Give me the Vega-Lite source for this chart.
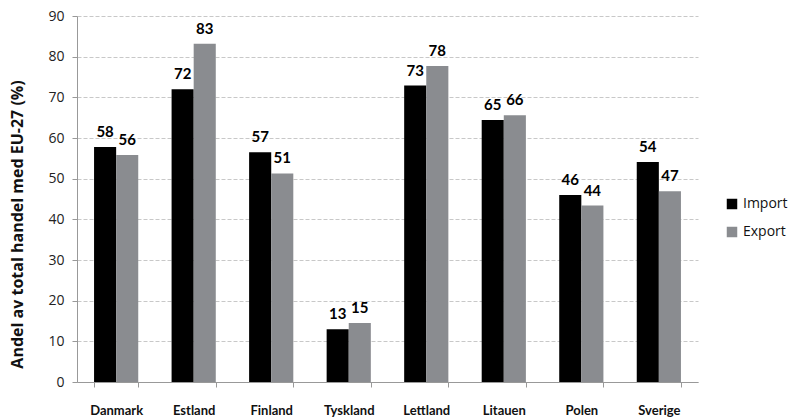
{
  "$schema": "https://vega.github.io/schema/vega-lite/v6.json",
  "width": 621,
  "height": 366,
  "autosize": {"type": "none"},
  "padding": {"left": 77, "top": 16, "right": 96, "bottom": 38},
  "background": "white",
  "config": {
    "view": {"stroke": null},
    "font": "Lato, sans-serif"
  },
  "data": {
    "values": [
      {"land": "Danmark", "typ": "Import", "andel": 57.8, "etikett": "58"},
      {"land": "Danmark", "typ": "Export", "andel": 55.8, "etikett": "56"},
      {"land": "Estland", "typ": "Import", "andel": 72.0, "etikett": "72"},
      {"land": "Estland", "typ": "Export", "andel": 83.2, "etikett": "83"},
      {"land": "Finland", "typ": "Import", "andel": 56.5, "etikett": "57"},
      {"land": "Finland", "typ": "Export", "andel": 51.3, "etikett": "51"},
      {"land": "Tyskland", "typ": "Import", "andel": 13.0, "etikett": "13"},
      {"land": "Tyskland", "typ": "Export", "andel": 14.5, "etikett": "15"},
      {"land": "Lettland", "typ": "Import", "andel": 72.9, "etikett": "73"},
      {"land": "Lettland", "typ": "Export", "andel": 77.7, "etikett": "78"},
      {"land": "Litauen", "typ": "Import", "andel": 64.4, "etikett": "65"},
      {"land": "Litauen", "typ": "Export", "andel": 65.6, "etikett": "66"},
      {"land": "Polen", "typ": "Import", "andel": 46.0, "etikett": "46"},
      {"land": "Polen", "typ": "Export", "andel": 43.4, "etikett": "44"},
      {"land": "Sverige", "typ": "Import", "andel": 54.1, "etikett": "54"},
      {"land": "Sverige", "typ": "Export", "andel": 46.9, "etikett": "47"}
    ]
  },
  "encoding": {
    "x": {
      "field": "land", "type": "nominal", "sort": null,
      "scale": {"paddingInner": 0.43, "paddingOuter": 0.22},
      "axis": {
        "title": null, "labelAngle": 0, "labelFont": "Lato, sans-serif",
        "labelFontWeight": "bold", "labelFontSize": 13, "labelColor": "#111",
        "labelPadding": 17, "tickBand": "extent", "tickColor": "#999", "tickSize": 5,
        "domainColor": "#999", "grid": false
      }
    },
    "xOffset": {"field": "typ", "type": "nominal", "sort": ["Import", "Export"]},
    "y": {
      "field": "andel", "type": "quantitative",
      "scale": {"domain": [0, 90], "nice": false},
      "axis": {
        "title": "Andel av total handel med EU-27 (%)",
        "titleFont": "Open Sans, sans-serif",
        "titleFontSize": 16, "titleFontWeight": "bold", "titleColor": "#111",
        "titleX": -52, "titleY": 208,
        "values": [0, 10, 20, 30, 40, 50, 60, 70, 80, 90],
        "labelFont": "Open Sans, sans-serif",
        "labelFontSize": 14, "labelColor": "#222", "labelPadding": 8,
        "tickSize": 5, "tickColor": "#999", "domainColor": "#999",
        "grid": true, "gridDash": [4, 2], "gridColor": "#c8c8c8", "gridWidth": 1
      }
    }
  },
  "layer": [
    {
      "mark": {"type": "bar"},
      "encoding": {
        "color": {
          "field": "typ", "type": "nominal", "sort": ["Import", "Export"],
          "scale": {"domain": ["Import", "Export"], "range": ["#000000", "#8a8c90"]},
          "legend": {
            "title": null, "orient": "none", "legendX": 648, "legendY": 181,
            "symbolType": "square", "symbolSize": 110, "symbolStrokeWidth": 0,
            "labelFont": "Open Sans, sans-serif", "labelFontSize": 14,
            "labelColor": "#111", "rowPadding": 14, "labelOffset": 4
          }
        }
      }
    },
    {
      "mark": {"type": "text", "baseline": "bottom", "dy": -7, "fontWeight": "bold", "fontSize": 15, "color": "#000", "font": "Lato, sans-serif"},
      "encoding": {
        "text": {"field": "etikett", "type": "nominal"}
      }
    }
  ]
}
